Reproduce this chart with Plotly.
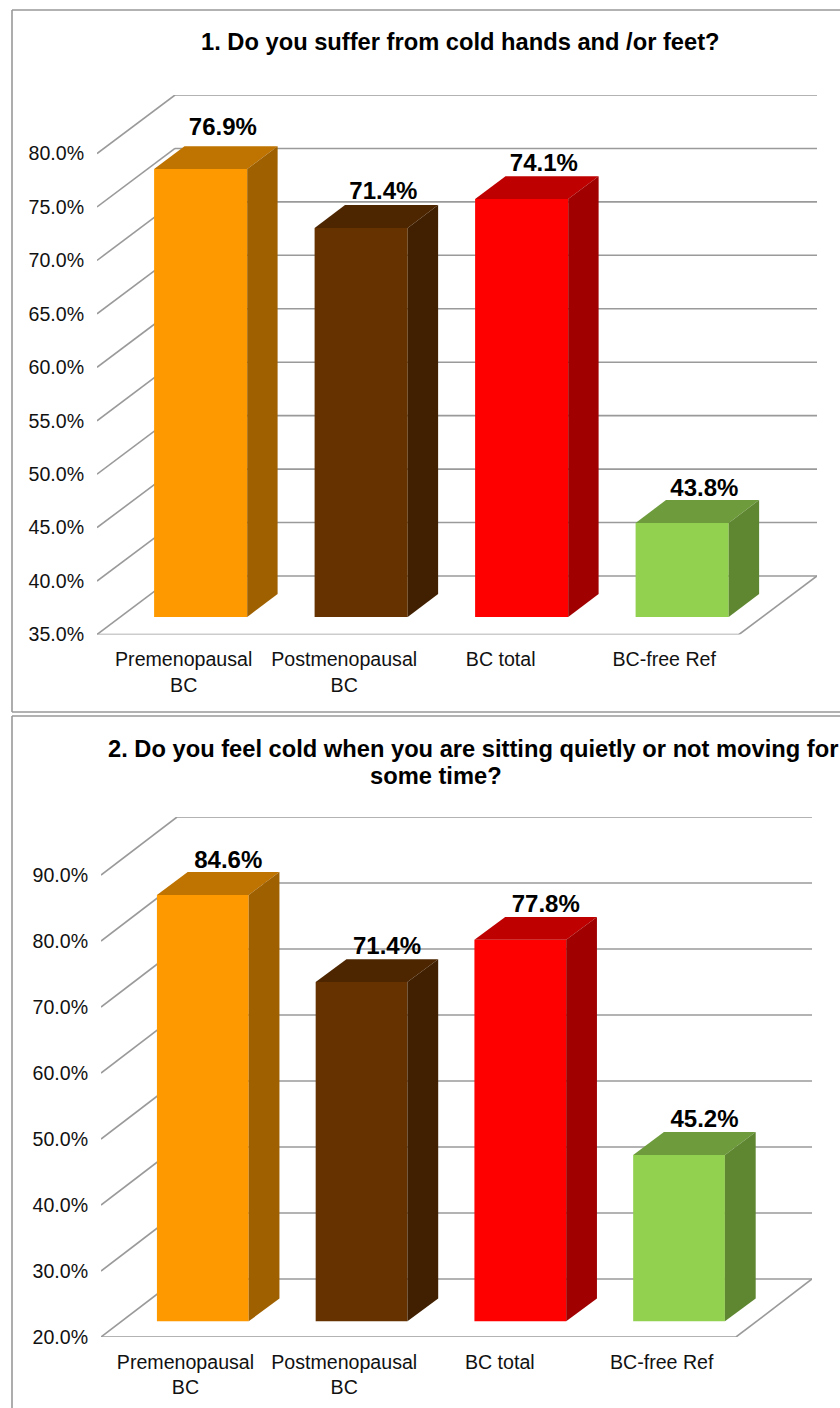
import plotly.graph_objects as go

categories = ["Premenopausal<br>BC", "Postmenopausal<br>BC", "BC total", "BC-free Ref"]
values_q1 = [76.9, 71.4, 74.1, 43.8]
values_q2 = [84.6, 71.4, 77.8, 45.2]
ticks_q1 = [35, 40, 45, 50, 55, 60, 65, 70, 75, 80]
ticks_q2 = [20, 30, 40, 50, 60, 70, 80, 90]
front_colors = ["#FF9900", "#663300", "#FF0000", "#92D050"]
top_colors = ["#BF7300", "#4D2600", "#BF0000", "#6E9C3C"]
side_colors = ["#9F6000", "#402000", "#A00000", "#5F8732"]

W, H = 840, 1408
FONT = "Liberation Sans, Arial, sans-serif"
GRID = "#9a9a9a"

# layout of each chart, in pixels of the page
charts = [
    dict(vals=values_q1, ticks=ticks_q1, left=97, unit=160.5, dxpx=78, bottom=634.5, top=95,
         perpct=10.68, dypx=58.5, barw=0.58, f0=0.30, f1=0.69, fy0=0.30, fy1=0.69,
         lab=[0.04, 0.04, 0.015, 0.034], lx=0.585, lift=[5, 0, -1, -2], name=""),
    dict(vals=values_q2, ticks=ticks_q2, left=101, unit=158.75, dxpx=76, bottom=1337, top=817,
         perpct=6.6, dypx=58, barw=0.578, f0=0.295, f1=0.70, fy0=0.27, fy1=0.665,
         lab=[0.032, 0.032, 0.012, 0.032], lx=0.63, lift=[-2, -1, -1, -1], name="2"),
]

fig = go.Figure()
shapes = []
layout = {}
for c in charts:
    xa, ya = "x" + c["name"], "y" + c["name"]
    dx = c["dxpx"] / c["unit"]
    dy = c["dypx"] / c["perpct"]
    y0, ytop = c["ticks"][0], c["ticks"][-1]
    xl, xr = -0.5, 3.5
    right = c["left"] + (4 + dx) * c["unit"]
    layout["xaxis" + c["name"]] = dict(
        domain=[c["left"] / W, right / W], range=[xl, xr + dx], anchor=ya, automargin=False,
        tickmode="array", tickvals=[i + c["lab"][i] for i in range(4)], ticktext=categories,
        ticks="outside", ticklen=7, tickcolor="rgba(0,0,0,0)", showgrid=False, zeroline=False,
        showline=False, tickfont=dict(family=FONT, size=19.6, color="#111"), tickangle=0,
        fixedrange=True)
    layout["yaxis" + c["name"]] = dict(
        domain=[1 - c["bottom"] / H, 1 - c["top"] / H], range=[y0, ytop + dy], anchor=xa,
        automargin=False,
        tickmode="array", tickvals=c["ticks"], ticktext=[f"{t:.1f}%" for t in c["ticks"]],
        ticks="outside", ticklen=8, tickcolor="rgba(0,0,0,0)", showgrid=False, zeroline=False,
        showline=False, tickfont=dict(family=FONT, size=19.6, color="#111"), fixedrange=True)

    def line(x0, v0, x1, v1):
        shapes.append(dict(type="line", xref=xa, yref=ya, x0=x0, y0=v0, x1=x1, y1=v1,
                           layer="below", line=dict(color=GRID, width=1.6)))

    for t in c["ticks"]:
        line(xl, t, xl + dx, t + dy)
        line(xl + dx, t + dy, xr + dx, t + dy)
    line(xl, y0, xr, y0)
    line(xr, y0, xr + dx, y0 + dy)

    f0x, f1x = c["f0"] * dx, c["f1"] * dx
    f0y, f1y = c["fy0"] * dy, c["fy1"] * dy
    hw = c["barw"] / 2
    base = y0 + f0y
    fig.add_trace(go.Bar(x=[i + f0x for i in range(4)], y=[v - y0 for v in c["vals"]],
                         base=[base] * 4, width=c["barw"], marker=dict(color=front_colors, line_width=0),
                         xaxis=xa, yaxis=ya, showlegend=False, hoverinfo="skip"))
    for i, v in enumerate(c["vals"]):
        xa0, xa1 = i + f0x - hw, i + f0x + hw
        ft = v + f0y
        bt = v + f1y
        fig.add_trace(go.Scatter(
            x=[xa0, xa1, i + f1x + hw, i + f1x - hw, xa0], y=[ft, ft, bt, bt, ft],
            mode="lines", fill="toself", fillcolor=top_colors[i], line=dict(width=0),
            xaxis=xa, yaxis=ya, showlegend=False, hoverinfo="skip"))
        fig.add_trace(go.Scatter(
            x=[xa1, i + f1x + hw, i + f1x + hw, xa1, xa1],
            y=[ft, bt, y0 + f1y, base, ft],
            mode="lines", fill="toself", fillcolor=side_colors[i], line=dict(width=0),
            xaxis=xa, yaxis=ya, showlegend=False, hoverinfo="skip"))
    fig.add_trace(go.Scatter(
        x=[i + c["lx"] * dx for i in range(4)],
        y=[v + f1y + c["lift"][i] / c["perpct"] for i, v in enumerate(c["vals"])],
        mode="text", text=[f"{v:.1f}%" for v in c["vals"]], textposition="top center",
        textfont=dict(family=FONT, size=24, color="#000"), cliponaxis=False,
        xaxis=xa, yaxis=ya, showlegend=False, hoverinfo="skip"))

# panel frames
for x0, y0, x1, y1 in [(12, 10, 12, 712), (12, 10, 840, 10), (12, 712, 840, 712),
                       (12, 716, 12, 1408), (12, 716, 840, 716)]:
    shapes.append(dict(type="line", xref="paper", yref="paper", x0=x0 / W, x1=x1 / W,
                       y0=1 - y0 / H, y1=1 - y1 / H, layer="below",
                       line=dict(color="#999999", width=1.6)))

titles = [("1. Do you suffer from cold hands and /or feet?", 460, 42),
          ("2. Do you feel cold when you are sitting quietly or not moving for", 473, 749),
          ("some time?", 436, 776)]
annotations = [dict(text="<b>" + t + "</b>", x=x / W, y=1 - y / H, xref="paper", yref="paper",
                    xanchor="center", yanchor="middle", showarrow=False,
                    font=dict(family=FONT, size=23.7, color="#000"))
               for t, x, y in titles]

fig.update_traces(selector=dict(mode="text"), texttemplate="<b>%{text}</b>")
fig.update_layout(width=W, height=H, margin=dict(l=0, r=0, t=0, b=0), autosize=False,
                  paper_bgcolor="white", plot_bgcolor="rgba(0,0,0,0)", shapes=shapes,
                  annotations=annotations, showlegend=False, **layout)
fig.write_html("out.html", config={"displayModeBar": False},
               post_script="document.body.style.margin='0';document.body.style.overflow='hidden';")
